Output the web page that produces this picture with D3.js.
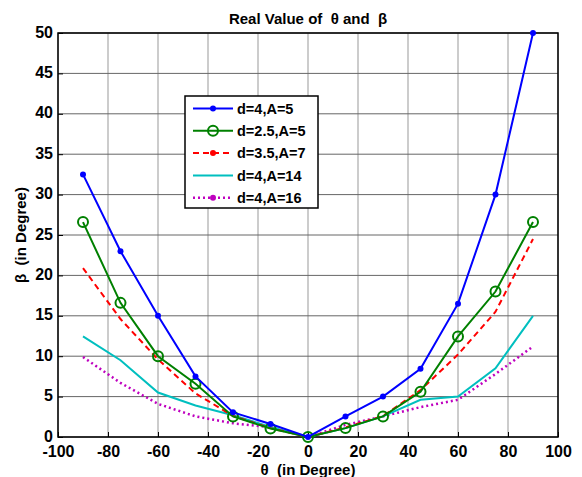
<!DOCTYPE html>
<html>
<head>
<meta charset="utf-8">
<script src="https://cdn.jsdelivr.net/npm/d3@7"></script>
<style>
  body { margin: 0; background: #fff; }
  text { font-family: "Liberation Sans", Arial, sans-serif; font-weight: bold; }
</style>
</head>
<body>
<div id="chart"></div>
<script>
// angles (theta, in degrees)
var theta = [-90, -75, -60, -45, -30, -15, 0, 15, 30, 45, 60, 75, 90];

// beta values for each case
var beta_d4_A5   = [32.5, 23.0, 15.0, 7.5, 3.05, 1.6, 0, 2.55, 5.0, 8.45, 16.5, 30.0, 50.0];
var beta_d25_A5  = [26.6, 16.6, 10.0, 6.6, 2.55, 1.05, 0, 1.1, 2.55, 5.6, 12.45, 18.0, 26.6];
var beta_d35_A7  = [20.9, 14.6, 9.6, 5.4, 2.6, 1.1, 0, 1.2, 2.6, 5.8, 10.2, 15.5, 24.5];
var beta_d4_A14  = [12.45, 9.5, 5.5, 3.9, 2.7, 1.25, 0, 1.1, 2.55, 4.6, 5.0, 8.5, 15.0];
var beta_d4_A16  = [9.9, 6.7, 4.1, 2.55, 1.7, 1.2, 0, 1.5, 2.55, 3.7, 4.6, 7.8, 11.2];

var seriesNames = ["d=4,A=5", "d=2.5,A=5", "d=3.5,A=7", "d=4,A=14", "d=4,A=16"];

var xTicks = [-100, -80, -60, -40, -20, 0, 20, 40, 60, 80, 100];
var yTicks = [0, 5, 10, 15, 20, 25, 30, 35, 40, 45, 50];

var margin = {top: 33, right: 24, bottom: 40, left: 58},
    width = 582 - margin.left - margin.right,
    height = 477 - margin.top - margin.bottom;

var svg = d3.select("#chart").append("svg")
    .attr("width", 582)
    .attr("height", 477);

var g = svg.append("g")
    .attr("transform", "translate(" + margin.left + "," + margin.top + ")");

var x = d3.scaleLinear().domain([-100, 100]).range([0, width]);
var y = d3.scaleLinear().domain([0, 50]).range([height, 0]);

// grid
g.append("g").selectAll("line").data(xTicks).enter().append("line")
    .attr("x1", function(d) { return x(d); }).attr("x2", function(d) { return x(d); })
    .attr("y1", 0).attr("y2", height)
    .style("stroke", "#999").style("stroke-width", 1);
g.append("g").selectAll("line").data(yTicks).enter().append("line")
    .attr("y1", function(d) { return y(d); }).attr("y2", function(d) { return y(d); })
    .attr("x1", 0).attr("x2", width)
    .style("stroke", "#666").style("stroke-width", 1);

// axes (ticks inside, MATLAB style), plain hyphen for negatives
var fmt = function(d) { return String(d); };
var xAxis = g.append("g")
    .attr("transform", "translate(0," + height + ")")
    .call(d3.axisBottom(x).tickValues(xTicks).tickFormat(fmt).tickSizeInner(-5).tickSizeOuter(0).tickPadding(9));
var yAxis = g.append("g")
    .call(d3.axisLeft(y).tickValues(yTicks).tickFormat(fmt).tickSizeInner(-5).tickSizeOuter(0).tickPadding(5));
[xAxis, yAxis].forEach(function(a) {
  a.select(".domain").remove();
  a.selectAll("line").style("stroke", "#000");
  a.selectAll("text").style("font-size", "16px").style("font-family", "Liberation Sans, Arial, sans-serif")
    .style("font-weight", "bold").style("fill", "#000");
});
yAxis.selectAll("text").attr("dy", "0.26em");

// frame
g.append("rect").attr("width", width).attr("height", height)
    .style("fill", "none").style("stroke", "#000").style("stroke-width", 1.5);

var styles = [
  {color: "#0000ff", dash: null,  width: 2,   marker: "dot"},
  {color: "#008000", dash: null,  width: 2,   marker: "circle"},
  {color: "#ff0000", dash: "6,4", width: 2,   marker: "legenddot"},
  {color: "#00bfbf", dash: null,  width: 2,   marker: null},
  {color: "#bf00bf", dash: "2,3", width: 2.5, marker: "legenddot"}
];
var allSeries = [beta_d4_A5, beta_d25_A5, beta_d35_A7, beta_d4_A14, beta_d4_A16];

var line = d3.line()
    .x(function(d, i) { return x(theta[i]); })
    .y(function(d) { return y(d); });

// draw from back to front so blue is on top
for (var k = allSeries.length - 1; k >= 0; k--) {
  var s = styles[k];
  g.append("path").datum(allSeries[k])
      .attr("d", line)
      .style("fill", "none")
      .style("stroke", s.color)
      .style("stroke-width", s.width)
      .style("stroke-dasharray", s.dash);
  if (s.marker == "dot") {
    g.selectAll(".m" + k).data(allSeries[k]).enter().append("circle")
        .attr("cx", function(d, i) { return x(theta[i]); })
        .attr("cy", function(d) { return y(d); })
        .attr("r", 3).style("fill", s.color);
  } else if (s.marker == "circle") {
    g.selectAll(".m" + k).data(allSeries[k]).enter().append("circle")
        .attr("cx", function(d, i) { return x(theta[i]); })
        .attr("cy", function(d) { return y(d); })
        .attr("r", 5).style("fill", "none").style("stroke", s.color).style("stroke-width", 2);
  }
}

// legend
var legend = svg.append("g").attr("transform", "translate(185,96)");
legend.append("rect").attr("width", 133).attr("height", 112)
    .style("fill", "#fff").style("stroke", "#000").style("stroke-width", 1.5);
seriesNames.forEach(function(name, i) {
  var s = styles[i], yy = 12.5 + i * 22.3;
  legend.append("line").attr("x1", 8).attr("x2", 48).attr("y1", yy).attr("y2", yy)
      .style("stroke", s.color).style("stroke-width", s.width).style("stroke-dasharray", s.dash);
  if (s.marker == "circle") {
    legend.append("circle").attr("cx", 28).attr("cy", yy).attr("r", 5)
        .style("fill", "none").style("stroke", s.color).style("stroke-width", 2);
  } else if (s.marker) {
    legend.append("circle").attr("cx", 28).attr("cy", yy).attr("r", 3).style("fill", s.color);
  }
  legend.append("text").attr("x", 52).attr("y", yy).attr("dy", "0.36em")
      .style("font-size", "14.5px").text(name);
});

// title and axis labels (keep the double spaces)
svg.append("text").attr("x", margin.left + width / 2).attr("y", 24)
    .attr("text-anchor", "middle").style("font-size", "15px").style("white-space", "pre")
    .text("Real Value of  \u03b8 and  \u03b2");
svg.append("text").attr("x", margin.left + width / 2).attr("y", 475)
    .attr("text-anchor", "middle").style("font-size", "15px").style("white-space", "pre")
    .text("\u03b8  (in Degree)");
svg.append("text")
    .attr("transform", "translate(26," + (margin.top + height / 2) + ") rotate(-90)")
    .attr("text-anchor", "middle").style("font-size", "15px").style("white-space", "pre")
    .text("\u03b2  (in Degree)");
</script>
</body>
</html>
